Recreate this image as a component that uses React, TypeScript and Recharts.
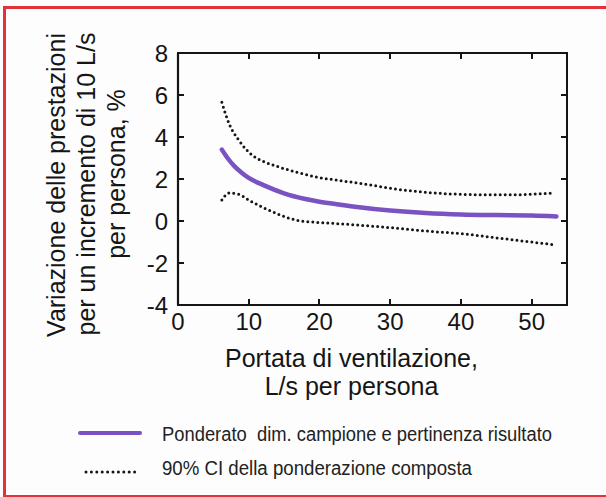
import React from 'react';
import { ComposedChart, Line, XAxis, YAxis } from 'recharts';

const xTicks = [0, 10, 20, 30, 40, 50];
const xInnerTicks = [10, 20, 30, 40, 50];
const yTicks = [-4, -2, 0, 2, 4, 6, 8];
const yInnerTicks = [-2, 0, 2, 4, 6];
const X_MIN = 0;
const X_MAX = 55;
const Y_MIN = -4;
const Y_MAX = 8;

const weightedX = [6.2, 7, 8, 9, 10, 12, 15, 18, 20, 22, 25, 30, 35, 40, 45, 50, 53.5];
const weightedY = [3.4, 3.0, 2.6, 2.3, 2.05, 1.72, 1.32, 1.05, 0.92, 0.82, 0.68, 0.5, 0.38, 0.31, 0.28, 0.26, 0.22];

const upperX = [6.2, 7.2, 8.6, 10.5, 12, 14.3, 17, 19.5, 23, 26, 30.8, 35.6, 40, 42.7, 47.4, 52.9];
const upperY = [5.65, 4.65, 3.85, 3.13, 2.85, 2.57, 2.3, 2.1, 1.92, 1.78, 1.52, 1.35, 1.27, 1.25, 1.25, 1.33];

const lowerX = [6.2, 7.2, 8.6, 10, 11.9, 14, 16.6, 19, 21.4, 26.1, 30.8, 35.6, 40.3, 45, 52.9];
const lowerY = [1.0, 1.33, 1.27, 1.0, 0.66, 0.35, 0.05, -0.05, -0.1, -0.21, -0.34, -0.49, -0.61, -0.8, -1.12];

const yLabelLines = ['Variazione delle prestazioni', 'per un incremento di 10 L/s', 'per persona, %'];
const xLabelLines = ['Portata di ventilazione,', 'L/s per persona'];
const legendLabels = ['Ponderato\u00a0\u00a0dim. campione e pertinenza risultato', '90% CI della ponderazione composta'];

const toPoints = (xs: number[], ys: number[]) => xs.map((x, i) => ({ x, y: ys[i] }));
const weightedData = toPoints(weightedX, weightedY);
const upperData = toPoints(upperX, upperY);
const lowerData = toPoints(lowerX, lowerY);

const CHART_W = 606;
const CHART_H = 497;
const MARGIN = { top: 53, right: 39, left: 118, bottom: 152 };
const Y_AXIS_W = 60;
const X_AXIS_H = 40;
const TICK_LEN = 6;

const PLOT_LEFT = MARGIN.left + Y_AXIS_W;
const PLOT_TOP = MARGIN.top;
const PLOT_RIGHT = CHART_W - MARGIN.right;
const PLOT_BOTTOM = CHART_H - MARGIN.bottom - X_AXIS_H;

const FONT = '"Liberation Sans", Arial, Helvetica, sans-serif';
const PURPLE = '#7a52c2';
const INK = '#151515';

const YLabel = (props: any) => {
  const vbx = props.viewBox && typeof props.viewBox.x === 'number' ? props.viewBox.x : MARGIN.left;
  const baseX = vbx - 53;
  const centers = [185, 184, 174];
  return (
    <g>
      {yLabelLines.map((t, i) => {
        const bx = baseX + i * 30;
        const cy = centers[i];
        return (
          <text
            key={i}
            x={bx}
            y={cy}
            transform={`rotate(-90 ${bx} ${cy})`}
            textAnchor="middle"
            fontFamily={FONT}
            fontSize={25}
            fill={INK}
          >
            {t}
          </text>
        );
      })}
    </g>
  );
};

const XLabel = () => {
  const cx = (PLOT_LEFT + PLOT_RIGHT) / 2 - 21;
  return (
    <g>
      {xLabelLines.map((t, i) => (
        <text key={i} x={cx} y={367 + i * 28} textAnchor="middle" fontFamily={FONT} fontSize={25} fill={INK}>
          {t}
        </text>
      ))}
    </g>
  );
};

// Box frame with inward ticks, as plain HTML boxes laid over the plot area.
const FrameOverlay = () => {
  const w = PLOT_RIGHT - PLOT_LEFT;
  const h = PLOT_BOTTOM - PLOT_TOP;
  const sx = (v: number) => PLOT_LEFT + ((v - X_MIN) / (X_MAX - X_MIN)) * w;
  const sy = (v: number) => PLOT_TOP + ((Y_MAX - v) / (Y_MAX - Y_MIN)) * h;
  const tick = (key: string, left: number, top: number, tw: number, th: number) => (
    <div key={key} style={{ position: 'absolute', left, top, width: tw, height: th, background: INK }} />
  );
  return (
    <div style={{ position: 'absolute', left: 0, top: 0, width: CHART_W, height: CHART_H, pointerEvents: 'none' }}>
      <div
        style={{
          position: 'absolute',
          left: PLOT_LEFT - 1,
          top: PLOT_TOP - 1,
          width: w - 2,
          height: h - 2,
          border: `2px solid ${INK}`,
        }}
      />
      {xInnerTicks.map((v) => tick(`t${v}`, sx(v) - 1, PLOT_TOP, 2, TICK_LEN))}
      {xInnerTicks.map((v) => tick(`b${v}`, sx(v) - 1, PLOT_BOTTOM - TICK_LEN, 2, TICK_LEN))}
      {yInnerTicks.map((v) => tick(`l${v}`, PLOT_LEFT, sy(v) - 1, TICK_LEN, 2))}
      {yInnerTicks.map((v) => tick(`r${v}`, PLOT_RIGHT - TICK_LEN, sy(v) - 1, TICK_LEN, 2))}
    </div>
  );
};

const LegendBlock = () => (
  <svg width={606} height={80} style={{ position: 'absolute', left: 0, top: 410, display: 'block', overflow: 'visible' }}>
    <line x1={80} y1={23} x2={140} y2={23} stroke={PURPLE} strokeWidth={4} strokeLinecap="round" />
    <text x={162} y={31} fontFamily={FONT} fontSize={20} fill="#222" textLength={390} lengthAdjust="spacingAndGlyphs">
      {legendLabels[0]}
    </text>
    <line x1={86} y1={62} x2={140} y2={62} stroke={INK} strokeWidth={3} strokeDasharray="0 5.4" strokeLinecap="round" />
    <text x={162} y={65} fontFamily={FONT} fontSize={20} fill="#222" textLength={310} lengthAdjust="spacingAndGlyphs">
      {legendLabels[1]}
    </text>
  </svg>
);

const tickStyle = { fontFamily: FONT, fontSize: 24, fill: INK };
const axisLineStyle = { stroke: INK, strokeWidth: 2.2 };

export default function App() {
  return (
    <div style={{ position: 'absolute', left: 0, top: 0, width: 606, height: 497, background: '#fdfdfd', overflow: 'hidden' }}>
      <div
        style={{
          position: 'absolute',
          left: 3,
          top: 6,
          width: 600,
          height: 486,
          border: '3px solid #e2323a',
        }}
      />
      <div style={{ position: 'absolute', left: 0, top: 0 }}>
        <ComposedChart width={CHART_W} height={CHART_H} margin={MARGIN}>
          <XAxis
            xAxisId="b"
            dataKey="x"
            type="number"
            domain={[X_MIN, X_MAX]}
            ticks={xTicks}
            tickLine={false}
            tickSize={0}
            tickMargin={8}
            axisLine={axisLineStyle}
            tick={tickStyle}
            height={X_AXIS_H}
            label={<XLabel />}
          />
          <YAxis
            yAxisId="l"
            type="number"
            domain={[Y_MIN, Y_MAX]}
            ticks={yTicks}
            tickLine={false}
            tickSize={0}
            tickMargin={10}
            axisLine={axisLineStyle}
            tick={tickStyle}
            width={Y_AXIS_W}
            label={<YLabel />}
          />
          <Line
            xAxisId="b"
            yAxisId="l"
            data={upperData}
            dataKey="y"
            type="monotone"
            stroke={INK}
            strokeWidth={3}
            strokeDasharray="0 5"
            strokeLinecap="round"
            dot={false}
            activeDot={false}
            isAnimationActive={false}
          />
          <Line
            xAxisId="b"
            yAxisId="l"
            data={lowerData}
            dataKey="y"
            type="monotone"
            stroke={INK}
            strokeWidth={3}
            strokeDasharray="0 5"
            strokeLinecap="round"
            dot={false}
            activeDot={false}
            isAnimationActive={false}
          />
          <Line
            xAxisId="b"
            yAxisId="l"
            data={weightedData}
            dataKey="y"
            type="monotone"
            stroke={PURPLE}
            strokeWidth={4.5}
            strokeLinecap="round"
            dot={false}
            activeDot={false}
            isAnimationActive={false}
          />
        </ComposedChart>
      </div>
      <FrameOverlay />
      <LegendBlock />
    </div>
  );
}
